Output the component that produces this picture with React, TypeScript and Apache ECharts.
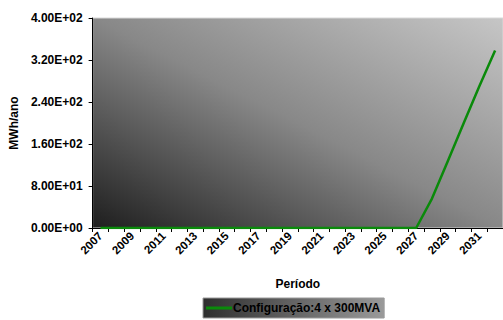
import React, { useEffect, useRef } from "react";
import * as echarts from "echarts";

const years: string[] = [
  "2007", "2008", "2009", "2010", "2011", "2012", "2013", "2014", "2015", "2016",
  "2017", "2018", "2019", "2020", "2021", "2022", "2023", "2024", "2025", "2026",
  "2027", "2028", "2029", "2030", "2031", "2032",
];
const energia: number[] = [
  0, 0, 0, 0, 0, 0, 0, 0, 0, 0,
  0, 0, 0, 0, 0, 0, 0, 0, 0, 0,
  0, 56, 127, 199, 270, 338,
];
const seriesName = "Configuração:4 x 300MVA";

function sci(v: number): string {
  if (v === 0) return "0.00E+00";
  const e = Math.floor(Math.log10(Math.abs(v)));
  const m = v / Math.pow(10, e);
  const sign = e < 0 ? "-" : "+";
  const ae = Math.abs(e);
  return m.toFixed(2) + "E" + sign + (ae < 10 ? "0" + ae : String(ae));
}

export default function App() {
  const ref = useRef<HTMLDivElement>(null);
  useEffect(() => {
    if (!ref.current) return;
    const chart = echarts.init(ref.current, null, { renderer: "svg" });
    const font = "'Liberation Sans', Arial, sans-serif";
    chart.setOption({
      animation: false,
      textStyle: { fontFamily: font },
      grid: {
        left: 90,
        right: -2,
        top: 18,
        bottom: 92,
        show: true,
        borderColor: "#d8d8d8",
        borderWidth: 1,
        backgroundColor: new echarts.graphic.LinearGradient(0, 1, 1, 0, [
          { offset: 0, color: "#1e1e1e" },
          { offset: 0.5, color: "#888888" },
          { offset: 1, color: "#c6c6c6" },
        ]),
      },
      legend: {
        left: 203,
        bottom: 2,
        data: [seriesName],
        icon: "rect",
        itemWidth: 26,
        itemHeight: 3,
        itemGap: 0,
        padding: [4, 4, 4, 3],
        borderColor: "#9a9a9a",
        borderWidth: 1,
        backgroundColor: new echarts.graphic.LinearGradient(0, 0, 1, 0, [
          { offset: 0, color: "#2e2e2e" },
          { offset: 1, color: "#9a9a9a" },
        ]),
        textStyle: { fontFamily: font, fontWeight: "bold", fontSize: 12, color: "#000", padding: [0, 0, 0, -4] },
      },
      xAxis: {
        type: "category",
        data: years,
        boundaryGap: true,
        name: "Período",
        nameLocation: "middle",
        nameGap: 50,
        nameTextStyle: { fontFamily: font, fontWeight: "bold", fontSize: 12, color: "#000", verticalAlign: "top" },
        axisLine: { lineStyle: { color: "#000", width: 1 } },
        axisTick: { show: true, length: 4, interval: 0, lineStyle: { color: "#000" } },
        axisLabel: {
          interval: 1,
          rotate: 45,
          margin: 6,
          fontFamily: font,
          fontWeight: "bold",
          fontSize: 11.5,
          color: "#000",
        },
        splitLine: { show: false },
      },
      yAxis: {
        type: "value",
        min: 0,
        max: 400,
        interval: 80,
        name: "MWh/ano",
        nameLocation: "middle",
        nameGap: 68,
        nameTextStyle: { fontFamily: font, fontWeight: "bold", fontSize: 12, color: "#000" },
        axisLine: { show: true, lineStyle: { color: "#000", width: 1 } },
        axisTick: { show: true, length: 4, lineStyle: { color: "#000" } },
        axisLabel: {
          margin: 10,
          fontFamily: font,
          fontWeight: "bold",
          fontSize: 12,
          color: "#000",
          formatter: (v: number) => sci(v),
        },
        splitLine: { show: false },
      },
      series: [
        {
          name: seriesName,
          type: "line",
          data: energia,
          symbol: "none",
          showSymbol: false,
          itemStyle: { color: "#0a8a0a" },
          lineStyle: { color: "#0a8a0a", width: 2.5 },
        },
      ],
    });
    return () => chart.dispose();
  }, []);
  return <div ref={ref} style={{ width: 503, height: 320, position: "absolute", left: 0, top: 0 }} />;
}
